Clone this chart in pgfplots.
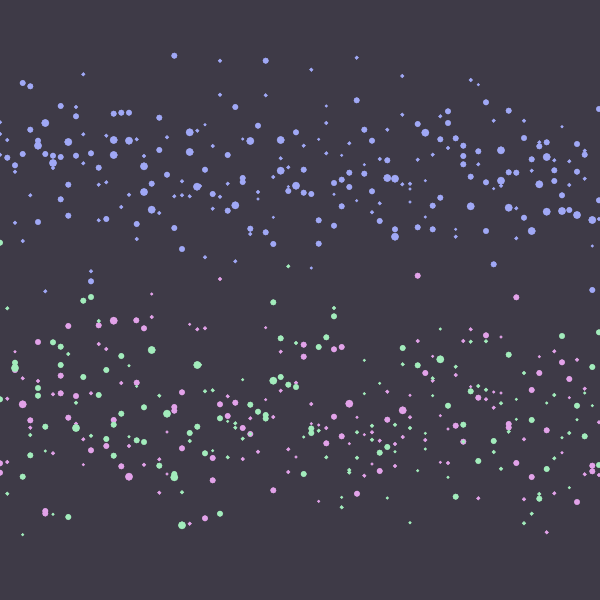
\documentclass[border=0pt]{standalone}
\usepackage{pgfplots}
\pgfplotsset{compat=1.18}
\definecolor{bg}{RGB}{62,58,71}
\definecolor{cB}{RGB}{160,168,246}
\definecolor{cP}{RGB}{226,162,233}
\definecolor{cG}{RGB}{162,236,188}
\pgfplotsset{dot/.style 2 args={only marks, mark=*, color=#1, mark size=#2, mark options={draw=none, fill=#1}}}
\begin{document}
\begin{tikzpicture}
\useasboundingbox (0,0) rectangle (600pt,600pt);
\begin{axis}[at={(0,0)},anchor=south west,width=600pt,height=600pt,scale only axis,xmin=0,xmax=600,ymin=0,ymax=600,y dir=reverse,hide axis]
\fill[bg] (rel axis cs:0,0) rectangle (rel axis cs:1,1);
% ---- blue series ----
\addplot[dot={cB}{1.3}] coordinates {(326.3,106) (205,124.7) (242.7,139) (318.7,139.3) (341.7,155.3) (364.3,164.7) (288.3,186.7) (258,199) (334,194.3) (356.7,200.7) (273.3,217.3) (311.3,268) (478.3,84.7) (562,126.7) (410,189) (493.7,188.7) (410,202) (425.3,180.7) (425.3,217) (455.7,229.3) (592.3,246)};
\addplot[dot={cB}{1.8}] coordinates {(83.3,74.3) (76,107) (0,122.3) (0,134) (83.3,134.3) (106.3,135.7) (197.3,130.7) (7.3,140) (136.7,139.3) (167,137.3) (0,154.7) (144,156) (15,171.7) (53,168) (83.3,163.3) (98.7,184.7) (106.3,182.3) (182,181.3) (30.3,195.3) (129,194.7) (174.3,196.3) (182,195.3) (189.7,196.3) (121.3,207) (159.3,213) (15,222.7) (98.7,220.3) (22.7,241) (136.7,239) (91,271.3) (45.3,291.3)
(220,60.7) (356.7,57.7) (311.3,69.7) (220,94.7) (265.7,95.3) (326.3,123) (387.3,129.7) (212.7,146) (303.7,145.7) (349.3,143.3) (326.3,153.3) (280.7,158.3) (379.7,159) (288.3,167.3) (273.3,177) (227.7,183.7) (200,186) (220,196.7) (258,192) (379.7,203.3) (212.7,208.7) (372,212.3) (250.3,234) (205,257.3) (235.3,261.3)
(402.3,76) (470.7,80) (402.3,114.7) (440.3,116.3) (493.7,120.7) (524,120.7) (448,148) (539.3,142.3) (584.7,150.7) (432.7,154.7) (417.7,159.7) (478.3,164.3) (554.3,160.3) (569.3,161.3) (531.7,170.7) (402.3,184.3) (410,183.7) (501,185.7) (569.3,185) (584.7,178.7) (516.3,208.3) (599,219) (455.7,236.7) (516.3,238.3)};
\addplot[dot={cB}{2.8}] coordinates {(174.3,55.7) (22.7,83) (30.3,86.3) (60.7,106) (76,116.3) (113.7,113.7) (121.3,112.7) (129,112.7) (159.3,117.7) (30.3,129.7) (38,140.7) (159.3,150) (7.3,157.7) (22.7,154) (45.3,154) (53,155.7) (60.7,157) (76,155.7) (91,153.3) (15,165.3) (98.7,167.7) (167,174.7) (68.3,184.7) (151.7,183.7) (60.7,199.3) (68.3,215.7) (38,222) (106.3,219) (136.7,224) (174.3,228) (182,249) (91,281.3)
(265.7,60.7) (356.7,100.3) (235.3,107) (258,125.7) (296,132.3) (364.3,129.7) (372,140.7) (227.7,155) (387.3,160.3) (205,169.7) (303.7,169.7) (242.7,178) (242.7,182) (349.3,172.7) (364.3,173.7) (212.7,194) (288.3,191) (303.7,192.7) (311.3,194) (334,183) (341.7,179.7) (349.3,187) (372,191.3) (227.7,210.7) (341.7,206.3) (318.7,220.3) (334,225.7) (379.7,221) (250.3,228.7) (265.7,232.3) (395,229.3) (273.3,244) (318.7,243.7)
(486,102.3) (417.7,124) (448,111.3) (448,123) (508.7,110.7) (599,109) (440.3,139.3) (455.7,138.3) (463.3,145.7) (478.3,151.3) (524,138) (539.3,146.3) (546.7,142.3) (577,144) (584.7,154.7) (463.3,156) (463.3,164.3) (531.7,159.3) (470.7,176.7) (508.7,172.3) (516.3,172.7) (554.3,170.3) (577,171.7) (486,182.3) (554.3,181) (432.7,205.7) (440.3,197.7) (562,195.3) (599,200.3) (524,217.7) (569.3,210) (417.7,227.3) (432.7,229.3) (486,231) (493.7,264.3) (592.3,290)};
\addplot[dot={cB}{3.7}] coordinates {(45.3,123) (189.7,132.3) (38,145.7) (68.3,142) (113.7,140) (129,140.7) (189.7,152) (113.7,155) (53,163) (144,166.3) (197,186.7) (144,192) (151.7,209.7)
(250.3,141) (280.7,140) (280.7,170.7) (387.3,178) (395,178.7) (296,185.7) (235.3,205.3) (395,236.7)
(425.3,132.7) (501,150.3) (546.7,157) (501,180.7) (539.3,184.3) (470.7,206.3) (508.7,207.7) (546.7,211.7) (562,211) (577,215) (592.3,220) (531.7,231)};
% ---- pink series ----
\addplot[dot={cP}{1.3}] coordinates {(151.7,294) (189.7,324.3) (15,351.7) (167,432) (83.3,464.7) (167,474) (265.7,327.7) (265.7,399.7) (357,417.3) (311.3,423.7) (318.7,425) (364.3,434.7) (349.3,443.7) (296,457) (372,464) (318.7,501.3) (501,337) (432.7,356.3) (539.3,356.7) (470.7,386.7) (493.7,392) (501,393) (569.3,397.7) (410,395.3) (440.3,415.7) (448,429) (562,452.7) (440.3,462.3)};
\addplot[dot={cP}{1.8}] coordinates {(151.7,317) (197.3,329.3) (98.7,344) (106.3,349) (22.7,378.3) (38,381) (121.3,383) (7.3,398.7) (53,394.3) (91,393.3) (30.3,427.7) (76,423.7) (83.3,439.3) (129,446) (53,453.3) (7.3,462) (144,464.7) (159.3,459.3) (159.3,492.7) (189.7,523.7)
(220,279) (205,328.3) (280.7,351.7) (296,382.7) (280.7,390.7) (387.3,391.7) (227.7,396.3) (311.3,404) (250.3,418.3) (273.3,417) (326.3,428) (372,432.3) (379.7,440.7) (395,444) (242.7,459) (258,451.7) (288.3,449.3) (395,466) (288.3,472) (364.3,475.7)
(470.7,329.3) (463.3,341) (417.7,341) (554.3,351.3) (577,359.7) (455.7,375) (432.7,380.7) (486,399.3) (493.7,407.7) (584.7,388.7) (410,417.3) (402.7,437) (425.3,440) (599,422.3) (524,439.3) (448,463) (584.7,474.3) (599,475) (478.3,498.3) (524,499.3) (554.3,493.3) (546.7,532.3)};
\addplot[dot={cP}{2.8}] coordinates {(98.7,325.3) (68.3,326) (136.3,320.3) (144,328.3) (38,342) (15,370) (60.7,375.7) (136.7,382.7) (60.7,393.3) (76,396) (182,392.3) (174.3,407) (174.3,410.7) (30.3,420.3) (68.3,417.7) (113.7,420) (106.3,446) (91,450.3) (182,448.3) (0,463.3) (0,472.7) (121.3,466.3) (45.3,511) (45.3,513.5)
(303.7,344.7) (334,349.3) (341.7,347) (303.7,356.7) (220,404.3) (235.3,402.7) (227.7,416) (242.7,428) (250.3,434) (334,416.7) (387.3,419.7) (341.7,436.3) (326.3,443.3) (212.7,458) (379.7,471) (212.7,480.3) (273.3,490.3) (357,493.7) (205,518.3)
(417.7,275.7) (516.3,297.3) (486,335.3) (562,362.3) (425.3,373) (539.3,373) (569.3,379) (478.3,397.7) (531.7,390) (455.7,425.7) (463.3,441.7) (508.7,424) (508.7,427.5) (546.7,430.3) (516.3,463) (531.7,477) (592.3,465.7) (592.3,471.3) (577,502)};
\addplot[dot={cP}{3.7}] coordinates {(113.7,320.7) (22.7,404.3) (129,476.7) (349.3,403.7) (402.7,410.3)};
% ---- green series ----
\addplot[dot={cG}{1.3}] coordinates {(129,365.7) (136.7,386.3) (129,436.7) (45.3,451) (53,514.3) (22.7,534.7) (364.3,360.3) (242.7,379.7) (379.7,383.3) (364.3,393.7) (227.7,421.3) (303.7,437) (395,451.7) (212.7,450.7) (341.7,497.3) (387.3,498) (410,522.7) (440.3,329) (516.3,399.3) (584.7,393) (546.7,403) (592.3,405.7) (432.7,395.7) (425.3,433.3) (425.3,449) (516.3,419.3) (577,419.7) (562,437.7) (417.7,470.7) (448,477.3) (569.3,487.7)};
\addplot[dot={cG}{1.8}] coordinates {(7.3,308.3) (98.7,321) (68.3,354) (76,402.7) (159.3,395.7) (30.3,435) (189.7,441) (91,435.7) (7.3,493.7) (182,492.3)
(288.3,266.3) (334,308) (296,343) (200,364.7) (205,391.3) (212.7,390.3) (235.3,423.3) (235.3,427.7) (250.3,434) (242.7,438.7) (318.7,430.7) (357,432.3) (372,425.7) (372,439.7) (395,424.7) (227.7,457.3) (326.3,457.3) (357,457.7) (349.3,470) (349.3,472.5) (341.7,507.3)
(486,341.3) (470.7,341.7) (402.7,364.3) (455.7,366.7) (432.7,378.3) (524,373) (478.3,386) (486,389.7) (501,403.3) (554.3,395) (410,428) (463.3,441.7) (508.7,431.7) (569.3,433) (493.7,452) (501,468.7) (554.3,458.3) (539.3,494) (531.7,513.7) (524,523.3)};
\addplot[dot={cG}{2.8}] coordinates {(0,242.7) (83.3,300.7) (91,297) (53,342.3) (60.7,346.7) (15,362.7) (60.7,365) (121.3,356) (106.3,370) (83.3,377) (38,388) (0,399.3) (38,395.7) (98.7,395) (144,407.3) (121.3,413.7) (45.3,426.7) (113.7,424.7) (197.3,426.7) (189.7,433) (106.3,439) (136.7,440.3) (144,442) (30.3,455.3) (113.7,455.7) (159.3,465.7) (22.7,476.7) (174.3,474) (68.3,517)
(273.3,302.3) (334,316.3) (280.7,338.3) (318.7,347) (326.3,337.3) (280.7,377) (288.3,384.7) (296,387) (250.3,404.7) (220,418.3) (258,411.7) (265.7,415) (265.7,418.5) (311.3,428.5) (311.3,433) (387.3,447) (379.7,452.7) (205,453.3) (303.7,474) (220,513.7)
(402.7,348) (562,336) (599,332.3) (508.7,354.7) (417.7,365.3) (592.3,367) (470.7,391.3) (577,405.7) (448,405.7) (463.3,424.7) (531.7,420) (584.7,436.3) (493.7,441) (478.3,461) (546.7,469) (599,465) (455.7,496.7) (539.3,498.7)};
\addplot[dot={cG}{3.7}] coordinates {(151.7,350) (15,368) (197.3,365) (167,413.7) (76,428) (174.3,477.3) (182,525.3) (273.3,380.7) (440.3,359.3)};
\end{axis}
\end{tikzpicture}
\end{document}
